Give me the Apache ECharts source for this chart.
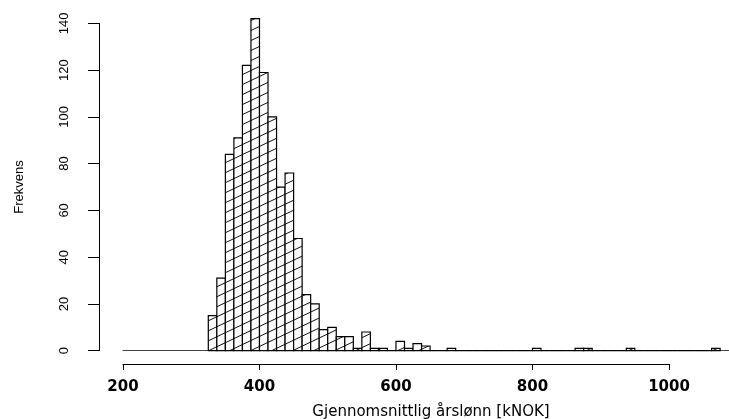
<!DOCTYPE html>
<html lang="no">
<head>
<meta charset="UTF-8">
<title>Histogram årslønn</title>
<style>html,body{margin:0;padding:0;background:#fff;}</style>
</head>
<body>
<div id="main" style="width:729px;height:419px;"></div>
<script src="https://cdn.jsdelivr.net/npm/echarts@6/dist/echarts.min.js"></script>
<script>
    // histogram: bins of 12.5 kNOK starting at 325
    var binStart = 325;
    var binWidth = 12.5;
    var counts = [
        15, 31, 84, 91, 122, 142, 119, 100, 70, 76,   // 325 - 450
        48, 24, 20, 9, 10, 6, 6, 1, 8, 1,             // 450 - 575
        1, 0, 4, 1, 3, 2, 0, 0, 1, 0,                 // 575 - 700
        0, 0, 0, 0, 0, 0, 0, 0, 1, 0,                 // 700 - 825
        0, 0, 0, 1, 1, 0, 0, 0, 0, 1,                 // 825 - 950
        0, 0, 0, 0, 0, 0, 0, 0, 0, 1                  // 950 - 1075
    ];
    var xTicks = [200, 400, 600, 800, 1000];
    var yTicks = [0, 20, 40, 60, 80, 100, 120, 140];

    var bins = [];
    for (var i = 0; i < counts.length; i++) {
        var a = binStart + i * binWidth;
        bins.push([a, a + binWidth, counts[i]]);
    }

    // skravering som i R (density-linjer)
    function makeHatch() {
        var W = 21, H = 10;
        var c = document.createElement('canvas');
        c.width = W;
        c.height = H;
        var ctx = c.getContext('2d');
        ctx.fillStyle = '#fff';
        ctx.fillRect(0, 0, W, H);
        ctx.strokeStyle = '#111';
        ctx.lineWidth = 1;
        [-H, 0, H].forEach(function (dy) {
            ctx.beginPath();
            ctx.moveTo(-W, 2 * H + dy);
            ctx.lineTo(2 * W, -H + dy);
            ctx.stroke();
        });
        return c;
    }
    var hatch = {image: makeHatch(), repeat: 'repeat'};

    function renderBar(params, api) {
        var p0 = api.coord([api.value(0), api.value(2)]);
        var p1 = api.coord([api.value(1), 0]);
        return {
            type: 'rect',
            shape: {x: p0[0], y: p0[1], width: p1[0] - p0[0], height: p1[1] - p0[1]},
            style: {fill: hatch, stroke: '#000', lineWidth: 1.2}
        };
    }

    var myChart = echarts.init(document.getElementById('main'));

    var option = {
        animation: false,
        backgroundColor: '#fff',
        grid: [
            {left: 123, right: 0, top: 0, bottom: 68.3, outerBoundsMode: 'none'},
            {left: 123, width: 546, top: 300, bottom: 55, outerBoundsMode: 'none'},
            {left: 99, width: 100, top: 23.3, bottom: 68.3, outerBoundsMode: 'none'}
        ],
        xAxis: [
            {
                gridIndex: 0, type: 'value', min: 200, max: 1088,
                axisLine: {show: true, onZero: false, lineStyle: {color: '#444', width: 1}},
                axisTick: {show: false},
                axisLabel: {show: false},
                splitLine: {show: false},
                name: 'Gjennomsnittlig årslønn [kNOK]',
                nameLocation: 'middle',
                nameGap: 54,
                nameTextStyle: {fontFamily: 'DejaVu Sans', fontSize: 15, color: '#000', padding: [0, 0, 0, 10]}
            },
            {
                gridIndex: 1, type: 'value', min: xTicks[0], max: xTicks[xTicks.length - 1], interval: 200,
                axisLine: {show: true, onZero: false, lineStyle: {color: '#000', width: 1}},
                axisTick: {show: true, length: 6, lineStyle: {color: '#000'}},
                axisLabel: {
                    margin: 16, fontFamily: 'DejaVu Sans', fontWeight: 'bold', fontSize: 15, color: '#000',
                    formatter: function (v) { return String(v); }
                },
                splitLine: {show: false}
            },
            {gridIndex: 2, type: 'value', show: false}
        ],
        yAxis: [
            {gridIndex: 0, type: 'value', min: 0, max: 150, show: false},
            {gridIndex: 1, type: 'value', show: false},
            {
                gridIndex: 2, type: 'value', min: yTicks[0], max: yTicks[yTicks.length - 1], interval: 20,
                axisLine: {show: true, onZero: false, lineStyle: {color: '#000', width: 1}},
                axisTick: {show: true, length: 11, lineStyle: {color: '#000'}},
                axisLabel: {rotate: 90, margin: 28, fontFamily: 'Liberation Sans', fontSize: 13, color: '#000'},
                splitLine: {show: false},
                name: 'Frekvens',
                nameLocation: 'middle',
                nameRotate: 90,
                nameGap: 73,
                nameTextStyle: {fontFamily: 'Liberation Sans', fontSize: 13, color: '#000'}
            }
        ],
        series: [
            {
                type: 'custom',
                xAxisIndex: 0,
                yAxisIndex: 0,
                renderItem: renderBar,
                encode: {x: [0, 1], y: 2},
                data: bins
            }
        ]
    };

    myChart.setOption(option);
</script>
</body>
</html>
